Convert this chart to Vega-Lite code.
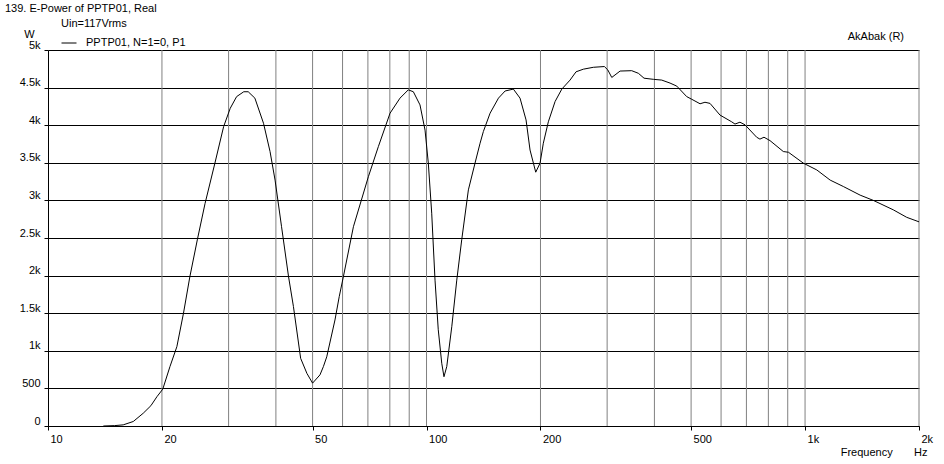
{
  "$schema": "https://vega.github.io/schema/vega-lite/v6.json",
  "width": 871,
  "height": 376,
  "autosize": {"type": "none"},
  "padding": {"left": 48, "top": 50, "right": 25, "bottom": 38},
  "background": "white",
  "config": {
    "view": {"stroke": null},
    "font": "Liberation Sans",
    "axis": {"labelFont": "Liberation Sans", "labelFontSize": 11, "labelColor": "black", "titleFont": "Liberation Sans", "titleFontSize": 11, "titleFontWeight": "normal", "titleColor": "black", "domainColor": "black", "tickColor": "black"}
  },
  "title": {"text": "139. E-Power of PPTP01, Real", "anchor": "start", "frame": "group", "dx": -43, "fontSize": 11, "fontWeight": "normal", "font": "Liberation Sans", "color": "black", "offset": 4},
  "datasets": {
    "curve": [
      {"f": 14.0, "w": 0}, {"f": 15.0, "w": 5}, {"f": 15.8, "w": 15}, {"f": 16.8, "w": 60}, {"f": 17.85, "w": 170}, {"f": 18.7, "w": 270}, {"f": 19.4, "w": 390}, {"f": 20.1, "w": 490}, {"f": 21.0, "w": 790}, {"f": 21.9, "w": 1055}, {"f": 22.8, "w": 1500}, {"f": 23.7, "w": 1985}, {"f": 24.8, "w": 2475}, {"f": 26.0, "w": 2960}, {"f": 27.6, "w": 3495}, {"f": 29.1, "w": 3980}, {"f": 30.3, "w": 4225}, {"f": 31.5, "w": 4380}, {"f": 32.9, "w": 4445}, {"f": 33.8, "w": 4445}, {"f": 35.2, "w": 4360}, {"f": 37.1, "w": 4025}, {"f": 38.6, "w": 3650}, {"f": 39.8, "w": 3270}, {"f": 41.4, "w": 2650}, {"f": 43.2, "w": 1985}, {"f": 44.5, "w": 1590}, {"f": 46.5, "w": 900}, {"f": 48.3, "w": 700}, {"f": 50.0, "w": 570}, {"f": 52.3, "w": 680}, {"f": 53.4, "w": 790}, {"f": 54.5, "w": 920}, {"f": 57.3, "w": 1410}, {"f": 58.8, "w": 1720}, {"f": 60.3, "w": 1985}, {"f": 64.1, "w": 2650}, {"f": 70.2, "w": 3315}, {"f": 74.6, "w": 3715}, {"f": 80.1, "w": 4160}, {"f": 85.1, "w": 4360}, {"f": 89.5, "w": 4470}, {"f": 92.3, "w": 4445}, {"f": 96.1, "w": 4270}, {"f": 99.1, "w": 3935}, {"f": 101.1, "w": 3495}, {"f": 103.2, "w": 2830}, {"f": 105.3, "w": 1940}, {"f": 107.4, "w": 1280}, {"f": 109.7, "w": 835}, {"f": 111.2, "w": 655}, {"f": 113.1, "w": 790}, {"f": 116.6, "w": 1320}, {"f": 120.2, "w": 1940}, {"f": 123.9, "w": 2480}, {"f": 129.0, "w": 3140}, {"f": 134.3, "w": 3495}, {"f": 138.5, "w": 3760}, {"f": 141.3, "w": 3915}, {"f": 147.2, "w": 4160}, {"f": 154.9, "w": 4360}, {"f": 161.3, "w": 4455}, {"f": 169.6, "w": 4480}, {"f": 176.6, "w": 4360}, {"f": 183.2, "w": 4070}, {"f": 187.7, "w": 3670}, {"f": 194.3, "w": 3375}, {"f": 199.5, "w": 3495}, {"f": 203.5, "w": 3760}, {"f": 209.8, "w": 4045}, {"f": 218.6, "w": 4315}, {"f": 227.7, "w": 4480}, {"f": 239.4, "w": 4600}, {"f": 248.3, "w": 4710}, {"f": 259.6, "w": 4745}, {"f": 275.9, "w": 4770}, {"f": 295.0, "w": 4780}, {"f": 301.2, "w": 4735}, {"f": 308.6, "w": 4635}, {"f": 324.6, "w": 4720}, {"f": 348.4, "w": 4725}, {"f": 362.8, "w": 4690}, {"f": 375.5, "w": 4625}, {"f": 397.4, "w": 4610}, {"f": 418.2, "w": 4600}, {"f": 439.9, "w": 4560}, {"f": 458.2, "w": 4520}, {"f": 486.8, "w": 4380}, {"f": 501.9, "w": 4345}, {"f": 528, "w": 4285}, {"f": 544, "w": 4305}, {"f": 561, "w": 4290}, {"f": 596, "w": 4135}, {"f": 640, "w": 4045}, {"f": 653, "w": 4015}, {"f": 673, "w": 4040}, {"f": 694, "w": 4005}, {"f": 745, "w": 3840}, {"f": 760, "w": 3815}, {"f": 779, "w": 3840}, {"f": 808, "w": 3795}, {"f": 876, "w": 3650}, {"f": 904, "w": 3640}, {"f": 990, "w": 3495}, {"f": 1074, "w": 3405}, {"f": 1165, "w": 3270}, {"f": 1262, "w": 3185}, {"f": 1398, "w": 3070}, {"f": 1515, "w": 3000}, {"f": 1710, "w": 2875}, {"f": 1856, "w": 2775}, {"f": 2000, "w": 2715}
    ],
    "grid": [
      {"f": 20}, {"f": 30}, {"f": 40}, {"f": 50}, {"f": 60}, {"f": 70}, {"f": 80}, {"f": 90}, {"f": 100},
      {"f": 200}, {"f": 300}, {"f": 400}, {"f": 500}, {"f": 600}, {"f": 700}, {"f": 800}, {"f": 900}, {"f": 1000}, {"f": 2000}
    ]
  },
  "layer": [
    {
      "data": {"name": "grid"},
      "mark": {"type": "rule", "color": "#808080", "strokeWidth": 1},
      "encoding": {
        "x": {"field": "f", "type": "quantitative", "scale": {"type": "log", "domain": [10, 2000], "nice": false},
          "axis": {"values": [10, 20, 50, 100, 200, 500, 1000, 2000], "grid": false, "tickSize": 4, "labelAlign": "left", "labelPadding": 3, "labelFlush": false, "labelOffset": 2, "labelOverlap": false,
            "labelExpr": "datum.value >= 1000 ? format(datum.value/1000, '~g') + 'k' : format(datum.value, 'd')",
            "title": "Frequency\u00a0\u00a0\u00a0\u00a0\u00a0\u00a0\u00a0Hz", "titleAnchor": "start", "titleAlign": "right", "titleX": 879, "titleY": 20, "titleBaseline": "top"}}
      }
    },
    {
      "data": {"name": "curve"},
      "mark": {"type": "line", "color": "black", "strokeWidth": 1},
      "encoding": {
        "x": {"field": "f", "type": "quantitative"},
        "y": {"field": "w", "type": "quantitative", "scale": {"domain": [0, 5000], "nice": false},
          "axis": {"tickCount": 10, "grid": true, "gridColor": "black", "gridOpacity": 1, "tickSize": 4, "labelPadding": 4, "labelBaseline": "bottom", "labelFlush": false, "labelOverlap": false,
            "labelExpr": "datum.value >= 1000 ? format(datum.value/1000, '~g') + 'k' : format(datum.value, 'd')",
            "title": "W", "titleAngle": 0, "titleAlign": "center", "titleBaseline": "top", "titleX": -19, "titleY": -22}},
        "color": {"datum": "PPTP01, N=1=0, P1", "type": "nominal", "scale": {"range": ["black"]},
          "legend": {"orient": "none", "legendX": 13, "legendY": -32, "title": "Uin=117Vrms", "titleFontSize": 11, "titleFontWeight": "normal", "titleFont": "Liberation Sans", "titleColor": "black", "titlePadding": 6, "labelFontSize": 11, "labelFont": "Liberation Sans", "labelColor": "black", "symbolType": "stroke", "symbolSize": 225, "symbolStrokeWidth": 1, "labelOffset": 9, "padding": 0}}
      }
    },
    {
      "data": {"values": [{}]},
      "mark": {"type": "text", "text": "AkAbak (R)", "align": "right", "baseline": "bottom", "dx": -15, "dy": -8, "fontSize": 11, "font": "Liberation Sans", "color": "black"},
      "encoding": {
        "x": {"datum": 2000, "type": "quantitative"},
        "y": {"datum": 5000, "type": "quantitative"}
      }
    }
  ]
}
